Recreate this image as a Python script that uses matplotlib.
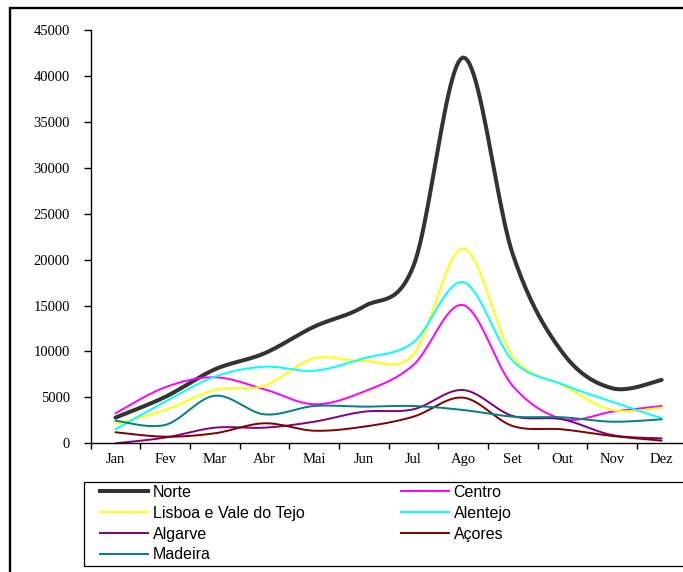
#!/usr/bin/env python3

import numpy as np
import matplotlib
matplotlib.use('Agg')
from matplotlib import pyplot as plt
from matplotlib.patches import Rectangle
from matplotlib.lines import Line2D


months = ['Jan', 'Fev', 'Mar', 'Abr', 'Mai', 'Jun',
          'Jul', 'Ago', 'Set', 'Out', 'Nov', 'Dez']

norte = [2800, 5050, 8050, 9800, 12700, 14900,
         19300, 42000, 20600, 9900, 6000, 6900]
centro = [3270, 6100, 7190, 5880, 4250, 5620,
          8530, 15050, 6250, 2650, 3440, 4060]
lisboa = [2100, 3630, 5800, 6270, 9250, 8960,
          9700, 21200, 9500, 6350, 3630, 3880]
alentejo = [1520, 4530, 7250, 8340, 7900, 9250,
            11000, 17550, 9000, 6420, 4530, 2720]
algarve = [0, 620, 1700, 1700, 2350, 3440,
           3700, 5800, 2970, 2610, 900, 540]
acores = [1200, 720, 1090, 2180, 1370, 1810,
          2900, 4970, 1880, 1520, 800, 290]
madeira = [2460, 2000, 5180, 3150, 4060, 3990,
           4060, 3630, 2900, 2830, 2350, 2610]

series = [
    ('Norte', norte, '#333333', 2.9),
    ('Centro', centro, '#ff00ff', 1.4),
    ('Lisboa e Vale do Tejo', lisboa, '#ffff00', 1.4),
    ('Alentejo', alentejo, '#00ffff', 1.4),
    ('Algarve', algarve, '#800080', 1.4),
    ('Açores', acores, '#800000', 1.4),
    ('Madeira', madeira, '#008080', 1.4),
]


def smooth(x, y, steps=24):
    # excel-like smoothed line: catmull-rom as cubic bezier segments
    x = np.asarray(x, float)
    y = np.asarray(y, float)
    px = np.concatenate([[x[0]], x, [x[-1]]])
    py = np.concatenate([[y[0]], y, [y[-1]]])
    t = np.linspace(0, 1, steps)[:, None]
    outx, outy = [], []
    for i in range(1, len(px) - 2):
        b0 = np.array([px[i], py[i]])
        b3 = np.array([px[i + 1], py[i + 1]])
        b1 = b0 + (np.array([px[i + 1], py[i + 1]]) - np.array([px[i - 1], py[i - 1]])) / 6
        b2 = b3 - (np.array([px[i + 2], py[i + 2]]) - np.array([px[i], py[i]])) / 6
        pts = ((1 - t) ** 3 * b0 + 3 * (1 - t) ** 2 * t * b1
               + 3 * (1 - t) * t ** 2 * b2 + t ** 3 * b3)
        outx.append(pts[:, 0])
        outy.append(pts[:, 1])
    return np.concatenate(outx), np.concatenate(outy)


W, H = 683, 572
fig = plt.figure(figsize=(W / 100, H / 100), dpi=100)

ax = fig.add_axes([90.7 / W, 1 - 443.3 / H, 595.8 / W, 413.3 / H])
xs = np.arange(1, len(months) + 1)
handles = {}
for name, vals, color, lw in series:
    sx, sy = smooth(xs, vals)
    ax.plot(sx, sy, color=color, lw=lw, solid_capstyle='round', clip_on=False)
    handles[name] = Line2D([], [], color=color, lw=lw)

ax.set_xlim(0.5, 12.5)
ax.set_ylim(0, 45000)
ax.set_yticks(range(0, 45001, 5000))
ax.set_yticklabels([str(v) for v in range(0, 45001, 5000)],
                   family='Liberation Serif', fontsize=10.5)
ax.set_xticks(xs)
ax.set_xticklabels(months, family='Liberation Serif', fontsize=10.5)
ax.set_xticks(np.arange(0.5, 12.6, 1), minor=True)
ax.tick_params(axis='x', which='major', length=0, pad=7)
ax.tick_params(axis='x', which='minor', length=4, width=1, direction='out')
ax.tick_params(axis='y', length=5, width=1, pad=10)
for side in ('top', 'right'):
    ax.spines[side].set_visible(False)
for side in ('left', 'bottom'):
    ax.spines[side].set_linewidth(1)

# outer border
fig.patches.append(Rectangle((9.8 / W, -0.1), 1.2, (H - 8.3) / H + 0.1,
                             transform=fig.transFigure, fill=False,
                             lw=1.7, ec='black', clip_on=False))
# legend frame
fig.patches.append(Rectangle((83.5 / W, 1 - 566 / H), 1.0, 84 / H,
                             transform=fig.transFigure, fill=False,
                             lw=0.9, ec='black', clip_on=False))

leg_kw = dict(frameon=False, loc='upper left',
              prop={'family': 'Liberation Sans', 'size': 11.5},
              handlelength=3.0, handletextpad=0.3, labelspacing=0.36,
              borderpad=0, borderaxespad=0)
col1 = ['Norte', 'Lisboa e Vale do Tejo', 'Algarve', 'Madeira']
col2 = ['Centro', 'Alentejo', 'Açores']
fig.legend([handles[n] for n in col1], col1,
           bbox_to_anchor=(100 / W, 1 - 485 / H), **leg_kw)
fig.legend([handles[n] for n in col2], col2,
           bbox_to_anchor=(401 / W, 1 - 485 / H), **leg_kw)

fig.savefig('out.png', dpi=100, facecolor='white')
